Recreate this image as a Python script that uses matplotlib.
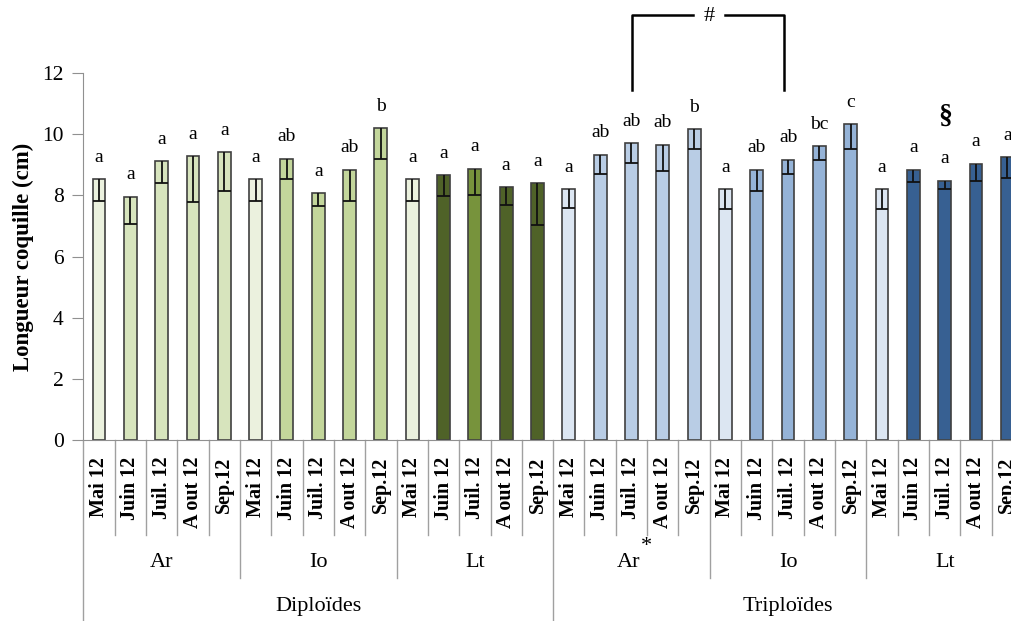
import numpy as np
import matplotlib
matplotlib.use("Agg")
import matplotlib.pyplot as plt

plt.rcParams['font.family'] = ['Liberation Serif', 'DejaVu Serif']

######################### Data #############################

months = ["Mai 12", "Juin 12", "Juil. 12", "A out 12", "Sep.12"]
sites = ["Ar", "Io", "Lt", "Ar", "Io", "Lt"]
ploidy = ["Diploïdes", "Triploïdes"]

longueur = [8.53, 7.96, 9.12, 9.28, 9.41,
            8.53, 9.20, 8.07, 8.83, 10.20,
            8.53, 8.66, 8.87, 8.27, 8.39,
            8.20, 9.33, 9.70, 9.66, 10.16,
            8.20, 8.83, 9.17, 9.61, 10.32,
            8.20, 8.83, 8.48, 9.04, 9.24]
erreur = [0.71, 0.90, 0.72, 1.51, 1.26,
          0.71, 0.67, 0.42, 1.01, 1.00,
          0.71, 0.68, 0.85, 0.59, 1.37,
          0.63, 0.63, 0.63, 0.87, 0.63,
          0.64, 0.69, 0.47, 0.45, 0.79,
          0.64, 0.40, 0.28, 0.56, 0.67]
lettres = ["a", "a", "a", "a", "a",
           "a", "ab", "a", "ab", "b",
           "a", "a", "a", "a", "a",
           "a", "ab", "ab", "ab", "b",
           "a", "ab", "ab", "bc", "c",
           "a", "a", "a", "a", "a"]

######################### Colours #############################

colors = (["#EBF1DE"] + ["#D7E4BD"] * 4 +
          ["#EBF1DE"] + ["#C3D69B"] * 4 +
          ["#EBF1DE", "#4F6228", "#77933C", "#4F6228", "#4F6228"] +
          ["#DCE6F2"] + ["#B9CDE5"] * 4 +
          ["#DCE6F2"] + ["#95B3D7"] * 4 +
          ["#DCE6F2"] + ["#376092"] * 4)

######################### Plotting #########################

fig = plt.figure(figsize=(10.11, 6.21), dpi=100)
ax = fig.add_axes([83.3 / 1011, 181 / 621, 939.7 / 1011, 367 / 621])

n = len(longueur)
x = np.arange(n)
w = 0.41
bas = np.array(longueur) - np.array(erreur)
ax.bar(x, longueur, width=w, color=colors, edgecolor="#404040", linewidth=1.2, zorder=2)
# one-sided (minus) error bars drawn inside the bars, cap as wide as the bar
ax.vlines(x, bas, longueur, color="#111111", lw=1.3, zorder=3)
ax.hlines(bas, x - w / 2, x + w / 2, color="#111111", lw=1.3, zorder=3)

for xi, v, l in zip(x, longueur, lettres):
    ax.text(xi, v + 0.72, l, ha="center", va="center", fontsize=14)

ax.set_xlim(-0.5, n - 0.5)
ax.set_ylim(0, 12)
ax.set_yticks(np.arange(0, 13, 2))
ax.tick_params(axis="y", direction="out", length=8, color="#909090", labelsize=15.5, pad=6)
ax.set_xticks(x)
ax.set_xticklabels(months * 6, rotation=90, fontsize=14.5, fontweight="bold")
ax.tick_params(axis="x", length=0, pad=12)
ax.set_ylabel("Longueur coquille (cm)", fontsize=16.5, fontweight="bold", labelpad=6)

for s in ["top", "right"]:
    ax.spines[s].set_visible(False)
ax.spines["left"].set_color("#909090")
ax.spines["bottom"].set_color("#909090")

# category separators below the axis
trans = ax.get_xaxis_transform()
for i in range(n + 1):
    if i % 15 == 0:
        bottom = -0.55
    elif i % 5 == 0:
        bottom = -0.376
    else:
        bottom = -0.259
    ax.plot([i - 0.5, i - 0.5], [0, bottom], color="#a0a0a0", lw=1, transform=trans, clip_on=False)

for g, s in enumerate(sites):
    ax.text(g * 5 + 2 - (0.1 if g == 3 else 0), -0.335, s, ha="center", va="center",
            fontsize=16, transform=trans)
ax.text(17.3, -0.29, "*", ha="left", va="center", fontsize=16, transform=trans)
for p, lab in enumerate(ploidy):
    ax.text(p * 15 + 7, -0.455, lab, ha="center", va="center", fontsize=16, transform=trans)

# bracket between Juil. 12 Ar and Juil. 12 Io (triploids)
ax.plot([17.02, 17.02, 18.96], [11.45, 13.9, 13.9], color="black", lw=1.8, clip_on=False)
ax.plot([19.98, 21.86, 21.86], [13.9, 13.9, 11.45], color="black", lw=1.8, clip_on=False)
ax.text(19.47, 13.85, "#", ha="center", va="center", fontsize=16)
ax.text(27, 10.57, "§", ha="center", va="center", fontsize=20, fontweight="bold")

fig.savefig("out.png", dpi=100)
